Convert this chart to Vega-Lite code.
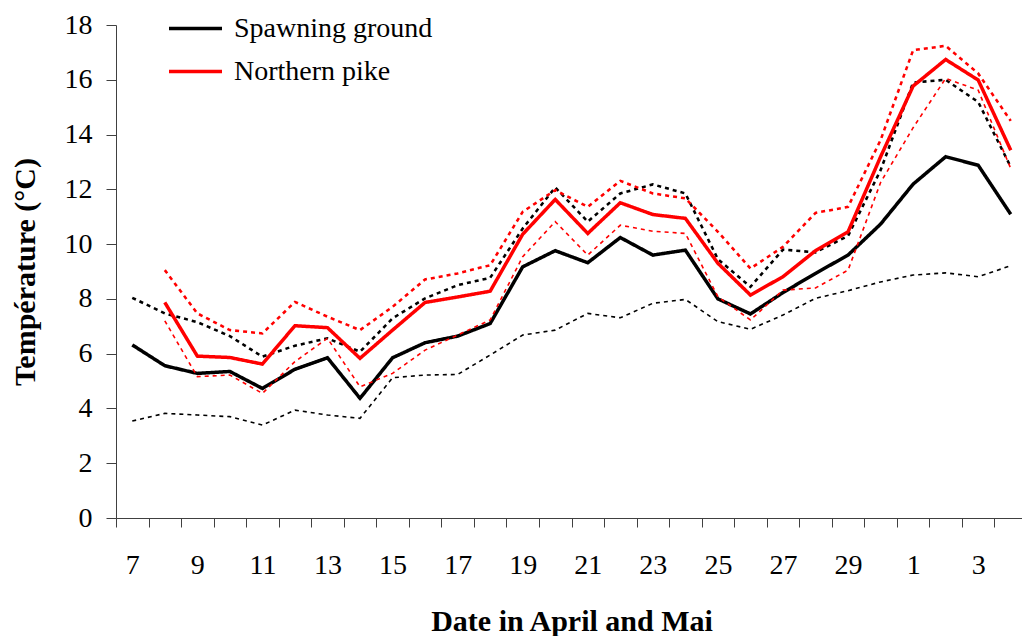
{
  "$schema": "https://vega.github.io/schema/vega-lite/v6.json",
  "width": 911,
  "height": 493,
  "autosize": {"type": "none"},
  "padding": {"left": 116, "top": 25, "right": 0, "bottom": 118},
  "background": "white",
  "config": {"view": {"stroke": null}, "font": "Times New Roman, Liberation Serif, DejaVu Serif, serif"},
  "data": {"values": [
    {"day": "7", "group": "Spawning ground", "mean": 6.32, "max": 8.04, "min": 3.54},
    {"day": "8", "group": "Spawning ground", "mean": 5.56, "max": 7.47, "min": 3.82},
    {"day": "9", "group": "Spawning ground", "mean": 5.28, "max": 7.15, "min": 3.76},
    {"day": "10", "group": "Spawning ground", "mean": 5.35, "max": 6.64, "min": 3.70},
    {"day": "11", "group": "Spawning ground", "mean": 4.73, "max": 5.89, "min": 3.39},
    {"day": "12", "group": "Spawning ground", "mean": 5.43, "max": 6.29, "min": 3.94},
    {"day": "13", "group": "Spawning ground", "mean": 5.85, "max": 6.56, "min": 3.76},
    {"day": "14", "group": "Spawning ground", "mean": 4.37, "max": 6.07, "min": 3.64},
    {"day": "15", "group": "Spawning ground", "mean": 5.85, "max": 7.29, "min": 5.12},
    {"day": "16", "group": "Spawning ground", "mean": 6.40, "max": 8.02, "min": 5.22},
    {"day": "17", "group": "Spawning ground", "mean": 6.64, "max": 8.50, "min": 5.24},
    {"day": "18", "group": "Spawning ground", "mean": 7.10, "max": 8.77, "min": 5.95},
    {"day": "19", "group": "Spawning ground", "mean": 9.17, "max": 10.57, "min": 6.68},
    {"day": "20", "group": "Spawning ground", "mean": 9.76, "max": 12.07, "min": 6.86},
    {"day": "21", "group": "Spawning ground", "mean": 9.32, "max": 10.82, "min": 7.47},
    {"day": "22", "group": "Spawning ground", "mean": 10.24, "max": 11.85, "min": 7.31},
    {"day": "23", "group": "Spawning ground", "mean": 9.60, "max": 12.18, "min": 7.84},
    {"day": "24", "group": "Spawning ground", "mean": 9.78, "max": 11.85, "min": 7.98},
    {"day": "25", "group": "Spawning ground", "mean": 8.00, "max": 9.45, "min": 7.17},
    {"day": "26", "group": "Spawning ground", "mean": 7.45, "max": 8.44, "min": 6.89},
    {"day": "27", "group": "Spawning ground", "mean": 8.23, "max": 9.80, "min": 7.41},
    {"day": "28", "group": "Spawning ground", "mean": 8.93, "max": 9.70, "min": 8.02},
    {"day": "29", "group": "Spawning ground", "mean": 9.60, "max": 10.30, "min": 8.30},
    {"day": "30", "group": "Spawning ground", "mean": 10.73, "max": 12.7, "min": 8.62},
    {"day": "1", "group": "Spawning ground", "mean": 12.19, "max": 15.9, "min": 8.87},
    {"day": "2", "group": "Spawning ground", "mean": 13.19, "max": 16.0, "min": 8.95},
    {"day": "3", "group": "Spawning ground", "mean": 12.88, "max": 15.19, "min": 8.81},
    {"day": "4", "group": "Spawning ground", "mean": 11.09, "max": 12.82, "min": 9.21},
    {"day": "8", "group": "Northern pike", "mean": 7.87, "max": 9.05, "min": 7.2},
    {"day": "9", "group": "Northern pike", "mean": 5.91, "max": 7.47, "min": 5.16},
    {"day": "10", "group": "Northern pike", "mean": 5.86, "max": 6.86, "min": 5.22},
    {"day": "11", "group": "Northern pike", "mean": 5.62, "max": 6.74, "min": 4.55},
    {"day": "12", "group": "Northern pike", "mean": 7.02, "max": 7.89, "min": 5.71},
    {"day": "13", "group": "Northern pike", "mean": 6.95, "max": 7.35, "min": 6.56},
    {"day": "14", "group": "Northern pike", "mean": 5.83, "max": 6.86, "min": 4.79},
    {"day": "15", "group": "Northern pike", "mean": 6.86, "max": 7.71, "min": 5.28},
    {"day": "16", "group": "Northern pike", "mean": 7.87, "max": 8.71, "min": 6.13},
    {"day": "17", "group": "Northern pike", "mean": 8.07, "max": 8.93, "min": 6.68},
    {"day": "18", "group": "Northern pike", "mean": 8.28, "max": 9.23, "min": 7.23},
    {"day": "19", "group": "Northern pike", "mean": 10.36, "max": 11.18, "min": 9.54},
    {"day": "20", "group": "Northern pike", "mean": 11.63, "max": 11.97, "min": 10.82},
    {"day": "21", "group": "Northern pike", "mean": 10.39, "max": 11.36, "min": 9.60},
    {"day": "22", "group": "Northern pike", "mean": 11.51, "max": 12.31, "min": 10.69},
    {"day": "23", "group": "Northern pike", "mean": 11.08, "max": 11.85, "min": 10.47},
    {"day": "24", "group": "Northern pike", "mean": 10.94, "max": 11.67, "min": 10.39},
    {"day": "25", "group": "Northern pike", "mean": 9.30, "max": 10.45, "min": 8.08},
    {"day": "26", "group": "Northern pike", "mean": 8.14, "max": 9.11, "min": 7.23},
    {"day": "27", "group": "Northern pike", "mean": 8.81, "max": 9.90, "min": 8.32},
    {"day": "28", "group": "Northern pike", "mean": 9.76, "max": 11.14, "min": 8.40},
    {"day": "29", "group": "Northern pike", "mean": 10.45, "max": 11.36, "min": 9.05},
    {"day": "30", "group": "Northern pike", "mean": 13.19, "max": 13.8, "min": 12.25},
    {"day": "1", "group": "Northern pike", "mean": 15.77, "max": 17.08, "min": 14.25},
    {"day": "2", "group": "Northern pike", "mean": 16.74, "max": 17.24, "min": 16.05},
    {"day": "3", "group": "Northern pike", "mean": 15.99, "max": 16.23, "min": 15.62},
    {"day": "4", "group": "Northern pike", "mean": 13.43, "max": 14.5, "min": 12.76}
  ]},
  "transform": [{"fold": ["mean", "max", "min"], "as": ["stat", "temp"]}],
  "mark": {"type": "line", "interpolate": "linear"},
  "encoding": {
    "x": {
      "field": "day", "type": "ordinal",
      "sort": ["7","8","9","10","11","12","13","14","15","16","17","18","19","20","21","22","23","24","25","26","27","28","29","30","1","2","3","4"],
      "scale": {"type": "band", "paddingInner": 0, "paddingOuter": 0},
      "axis": {
        "title": "Date in April and Mai", "labelAngle": 0, "tickBand": "extent",
        "labelExpr": "indexof(['7','9','11','13','15','17','19','21','23','25','27','29','1','3'], datum.value) >= 0 ? datum.label : ''",
        "labelOverlap": false, "labelFont": "Times New Roman, Liberation Serif, DejaVu Serif, serif", "labelFontSize": 28, "labelColor": "black",
        "titleFont": "Times New Roman, Liberation Serif, DejaVu Serif, serif", "titleFontSize": 30, "titleFontWeight": "bold", "titleColor": "black",
        "domainColor": "#404040", "tickColor": "#404040", "tickSize": 9, "labelPadding": 24, "titlePadding": 27, "grid": false
      }
    },
    "y": {
      "field": "temp", "type": "quantitative",
      "scale": {"domain": [0, 18], "nice": false},
      "axis": {
        "values": [0, 2, 4, 6, 8, 10, 12, 14, 16, 18], "title": "Température (°C)", "grid": false,
        "labelFont": "Times New Roman, Liberation Serif, DejaVu Serif, serif", "labelFontSize": 28, "labelColor": "black",
        "titleFont": "Times New Roman, Liberation Serif, DejaVu Serif, serif", "titleFontSize": 30, "titleFontWeight": "bold", "titleColor": "black",
        "domainColor": "#404040", "tickColor": "#404040", "tickSize": 10, "labelPadding": 14, "titlePadding": 24
      }
    },
    "color": {
      "field": "group", "type": "nominal",
      "scale": {"domain": ["Spawning ground", "Northern pike"], "range": ["#000000", "#ff0000"]},
      "legend": {
        "orient": "none", "legendX": 51, "legendY": -25, "title": null, "padding": 0,
        "symbolType": "stroke", "symbolSize": 2809, "symbolStrokeWidth": 3.5,
        "labelFont": "Times New Roman, Liberation Serif, DejaVu Serif, serif", "labelFontSize": 28, "labelColor": "black", "labelOffset": 10,
        "labelLimit": 600, "rowPadding": -7
      }
    },
    "strokeDash": {
      "field": "stat", "type": "nominal",
      "scale": {"domain": ["mean", "max", "min"], "range": [[1, 0], [4, 4], [4, 4]]},
      "legend": null
    },
    "strokeWidth": {
      "field": "stat", "type": "nominal",
      "scale": {"domain": ["mean", "max", "min"], "range": [3.5, 1.6, 1.6]},
      "legend": null
    }
  }
}
